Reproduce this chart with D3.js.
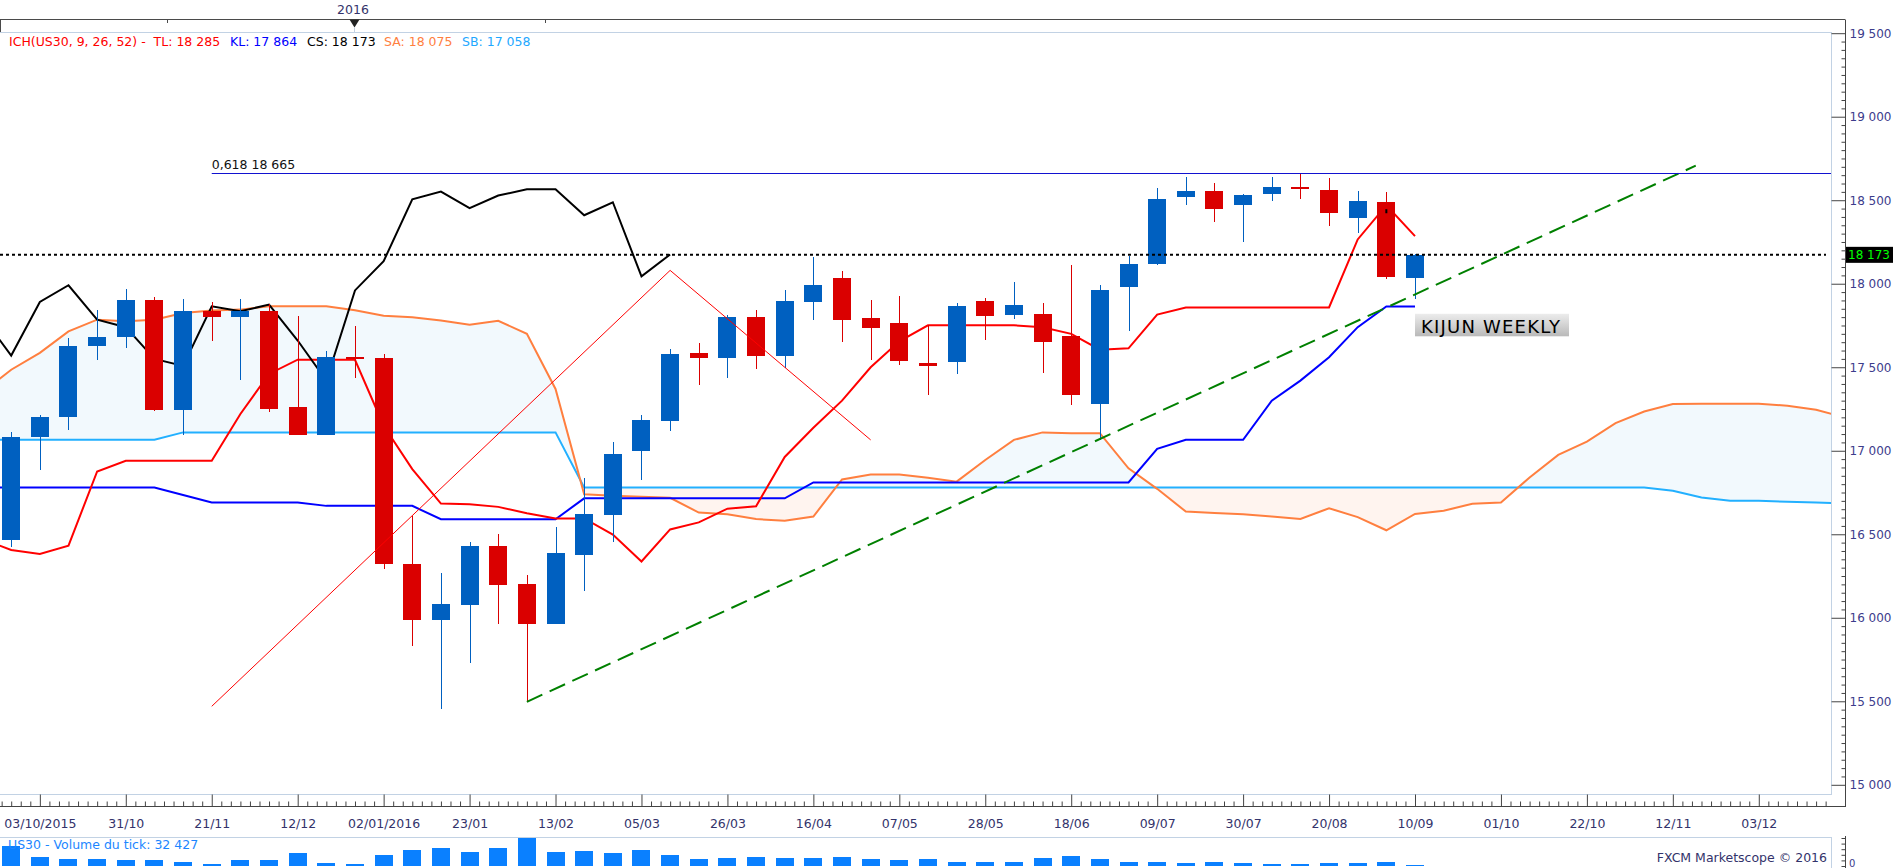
<!DOCTYPE html>
<html><head><meta charset="utf-8">
<script src="https://cdn.jsdelivr.net/npm/d3@7"></script>
<style>
body{margin:0;background:#fff;overflow:hidden}
svg{display:block}
text{font-family:"DejaVu Sans",Verdana,sans-serif}
</style>
</head><body>
<svg id="c" width="1903" height="868"></svg>
<script>
// ---------- DATA (weekly US30, candle index 0 = first visible week) ----------
const tickLabels = ["03/10/2015","31/10","21/11","12/12","02/01/2016","23/01","13/02","05/03","26/03","16/04","07/05","28/05","18/06","09/07","30/07","20/08","10/09","01/10","22/10","12/11","03/12"];
const openP  = [16466,17080,17200,17625,17679,17905,17246,17839,17799,17835,17260,17092,17560,17555,16322,15988,16079,16430,16202,15961,16378,16618,17000,17180,17586,17553,17803,17565,17890,18037,17797,17767,17528,17529,17899,17811,17821,17689,17278,17979,18117,18519,18553,18471,18540,18580,18562,18394,18491,18033];
const highP  = [17112,17212,17677,17845,17971,17919,17911,17892,17911,17880,17809,17599,17749,17580,16612,16271,16451,16504,16256,16544,16839,17051,17215,17611,17648,17810,17840,17964,18160,18079,17905,17929,17751,17885,17917,18013,17885,18115,17995,18165,18571,18637,18601,18540,18637,18664,18634,18555,18551,18180];
const lowP   = [16426,16886,17126,17541,17613,17236,17096,17655,17421,17230,17092,17092,17438,16290,15833,15451,15728,15961,15497,15961,16163,16451,16822,17116,17396,17433,17487,17495,17782,17649,17546,17511,17332,17457,17665,17791,17463,17276,17062,17715,18110,18471,18369,18249,18496,18505,18343,18301,18030,17909];
const closeP = [17084,17204,17630,17683,17905,17246,17839,17799,17835,17252,17092,17559,17552,16319,15988,16083,16430,16199,15961,16385,16622,16979,17186,17582,17555,17803,17565,17894,17993,17785,17733,17535,17505,17869,17805,17875,17649,17332,17965,18121,18505,18553,18445,18529,18577,18568,18423,18496,18039,18173];
// indicator series start one week before the first visible candle (index -1)
const indStart = -1;
const tenkan = [16470,16406,16382,16432,16876,16940,16940,16940,16940,17220,17460,17545,17545,17545,17150,16890,16684,16680,16664,16626,16595,16595,16498,16337,16529,16571,16653,16668,16963,17138,17300,17500,17655,17751,17751,17751,17751,17740,17700,17605,17613,17815,17858,17858,17858,17858,17858,17858,18265,18470,18285];
const kijun  = [16780,16780,16780,16780,16780,16780,16780,16735,16690,16690,16690,16690,16670,16670,16670,16670,16590,16590,16590,16590,16590,16715,16715,16715,16715,16715,16715,16715,16715,16810,16810,16810,16810,16810,16810,16810,16810,16810,16810,16810,16810,17012,17066,17066,17066,17300,17420,17560,17740,17864,17864];
const chikou = [17803,17570,17891,17991,17785,17740,17550,17508,17865,17835,17875,17660,17420,17960,18135,18505,18552,18453,18528,18565,18565,18410,18488,18044,18175];
const senkouA = [17350,17485,17586,17715,17785,17775,17785,17825,17840,17845,17865,17865,17865,17841,17809,17800,17780,17754,17778,17700,17370,16740,16730,16724,16718,16630,16620,16591,16581,16606,16828,16858,16858,16838,16815,16945,17065,17110,17105,17105,16895,16772,16636,16628,16620,16606,16592,16656,16603,16524,16622,16641,16682,16690,16840,16975,17055,17165,17235,17280,17282,17282,17282,17270,17245,17200];
const senkouB = [17066,17066,17066,17066,17066,17066,17066,17110,17110,17110,17110,17110,17110,17110,17110,17110,17110,17110,17110,17110,17110,16780,16780,16780,16780,16780,16780,16780,16780,16780,16780,16780,16780,16780,16780,16780,16780,16780,16780,16780,16780,16780,16780,16780,16780,16780,16780,16780,16780,16780,16780,16780,16780,16780,16780,16780,16780,16780,16780,16760,16720,16700,16700,16695,16690,16685];
const volume = [714000,315000,242000,242000,206000,206000,133000,61000,206000,206000,460000,97000,61000,387000,569000,642000,496000,642000,1005000,496000,533000,460000,569000,387000,242000,278000,315000,278000,278000,315000,242000,206000,242000,133000,133000,133000,278000,351000,242000,133000,133000,97000,133000,97000,61000,61000,97000,97000,133000,32427];
const fibLevel = 18665, fibStart = 7;
const lastClose = 18173;
const redTrend = [[7,15470],[23,18080],[30,17065]];
const greenTrend = [[18,15497],[58.8,18707]];
const kijunNote = {i:49, v:17820, text:"KIJUN WEEKLY"};
const legendParts = [
  {t:"ICH(US30, 9, 26, 52) -  TL: 18 285", c:"#ff0000", x:9},
  {t:"KL: 17 864", c:"#0000ff", x:230},
  {t:"CS: 18 173", c:"#000000", x:307},
  {t:"SA: 18 075", c:"#ff7f3f", x:384},
  {t:"SB: 17 058", c:"#1ea8ff", x:462}
];

// ---------- LAYOUT ----------
const svg = d3.select("#c");
const P = {left:0, right:1831, top:32, bottom:794};
const axisX = 1845, axisY = 806;
const x = d3.scaleLinear().domain([0,49]).range([11.2,1415]);
const y = d3.scaleLinear().domain([15000,19500]).range([784.8,33.2]);
const yv = d3.scaleLinear().domain([0,1000000]).range([866,838]);
const fmt = d => d3.format(",")(d).replace(/,/g," ");

const defs = svg.append("defs");
defs.append("clipPath").attr("id","plotClip").append("rect")
  .attr("x",P.left).attr("y",P.top).attr("width",P.right-P.left).attr("height",P.bottom-P.top);
defs.append("clipPath").attr("id","volClip").append("rect")
  .attr("x",0).attr("y",837).attr("width",P.right).attr("height",40);
const g1 = defs.append("linearGradient").attr("id","boxGrad").attr("x1",0).attr("y1",0).attr("x2",0).attr("y2",1);
g1.append("stop").attr("offset","0%").attr("stop-color","#ececec");
g1.append("stop").attr("offset","100%").attr("stop-color","#b9b9b9");

// cloud clip regions
const cloudI = d3.range(senkouA.length);
const xi = i => x(i+indStart);
const topY = P.top-10, botY = P.bottom+10;
defs.append("clipPath").attr("id","belowSA").append("path")
  .attr("d", d3.area().x(xi).y0(botY).y1(i=>y(senkouA[i]))(cloudI));
defs.append("clipPath").attr("id","belowSB").append("path")
  .attr("d", d3.area().x(xi).y0(botY).y1(i=>y(senkouB[i]))(cloudI));

// top strip
svg.append("line").attr("x1",0).attr("x2",axisX).attr("y1",19.5).attr("y2",19.5).attr("stroke","#4a4a4a");
svg.append("line").attr("x1",0.5).attr("x2",0.5).attr("y1",19.5).attr("y2",32).attr("stroke","#4a4a4a");
[167,545].forEach(t=>svg.append("line").attr("x1",t+0.5).attr("x2",t+0.5).attr("y1",19.5).attr("y2",23).attr("stroke","#4a4a4a"));
svg.append("path").attr("d","M349.5,19.5 L359.5,19.5 L354.5,27.5 Z").attr("fill","#222");
svg.append("line").attr("x1",354.5).attr("x2",354.5).attr("y1",27.5).attr("y2",32).attr("stroke","#c4d2e2");
svg.append("text").attr("x",353).attr("y",13.5).attr("text-anchor","middle").attr("font-size",12.5).attr("fill","#33336b").text("2016");

// plot frame
svg.append("rect").attr("x",-1).attr("y",P.top+0.5).attr("width",P.right+1.5).attr("height",P.bottom-P.top)
  .attr("fill","none").attr("stroke","#c2d2e4");

// legend
legendParts.forEach(p=>svg.append("text").attr("x",p.x).attr("y",45.5).attr("font-size",12.5)
  .attr("fill",p.c).style("white-space","pre").text(p.t));

const plot = svg.append("g").attr("clip-path","url(#plotClip)");

// cloud fills
plot.append("path").attr("clip-path","url(#belowSA)")
  .attr("d", d3.area().x(xi).y0(topY).y1(i=>y(senkouB[i]))(cloudI))
  .attr("fill","#f2f9fd");
plot.append("path").attr("clip-path","url(#belowSB)")
  .attr("d", d3.area().x(xi).y0(topY).y1(i=>y(senkouA[i]))(cloudI))
  .attr("fill","#fff4ef");

const line = arr => d3.line().x((d,i)=>xi(i)).y(d=>y(d))(arr);
plot.append("path").attr("d",line(senkouB)).attr("fill","none").attr("stroke","#22b0ff").attr("stroke-width",2);
plot.append("path").attr("d",line(senkouA)).attr("fill","none").attr("stroke","#ff7f3f").attr("stroke-width",2);
plot.append("path").attr("d",line(kijun)).attr("fill","none").attr("stroke","#0000ff").attr("stroke-width",2);
plot.append("path").attr("d",line(tenkan)).attr("fill","none").attr("stroke","#ff0000").attr("stroke-width",2);
plot.append("path").attr("d",line(chikou)).attr("fill","none").attr("stroke","#000000").attr("stroke-width",2);

// candles
const candles = plot.append("g").attr("shape-rendering","crispEdges");
openP.forEach((o,i)=>{
  const c = closeP[i], col = c>=o ? "#0060c0" : "#da0000";
  const cx = Math.round(x(i))+0.5;
  candles.append("line").attr("x1",cx).attr("x2",cx).attr("y1",y(highP[i])).attr("y2",y(lowP[i])).attr("stroke",col);
  const yt = y(Math.max(o,c)), yb = y(Math.min(o,c));
  candles.append("rect").attr("x",Math.round(x(i))-9).attr("width",18)
    .attr("y",yt).attr("height",Math.max(1.5,yb-yt)).attr("fill",col);
});
// small marker inside candle 48
plot.append("line").attr("x1",x(48)).attr("x2",x(48)).attr("y1",y(18446)).attr("y2",y(18422)).attr("stroke","#000").attr("stroke-width",2);

// trend lines
const tl = d3.line().x(d=>x(d[0])).y(d=>y(d[1]));
plot.append("path").attr("d",tl(redTrend)).attr("fill","none").attr("stroke","#ff0000").attr("stroke-width",1);
plot.append("path").attr("d",tl(greenTrend)).attr("fill","none").attr("stroke","#008000").attr("stroke-width",2).attr("stroke-dasharray","17,8");
plot.append("line").attr("x1",x(fibStart)).attr("x2",P.right).attr("y1",Math.round(y(fibLevel))+0.5).attr("y2",Math.round(y(fibLevel))+0.5)
  .attr("stroke","#1212d0").attr("stroke-width",1);
svg.append("text").attr("x",x(fibStart)).attr("y",y(fibLevel)-4).attr("font-size",12.5).attr("fill","#111").style("white-space","pre").text("0,618 18 665");
plot.append("line").attr("x1",0).attr("x2",1826).attr("y1",y(lastClose)).attr("y2",y(lastClose))
  .attr("stroke","#000").attr("stroke-width",2).attr("stroke-dasharray","3,3");

// KIJUN WEEKLY note
const ky = y(kijunNote.v);
svg.append("rect").attr("x",x(kijunNote.i)).attr("y",ky).attr("width",154).attr("height",22.5).attr("fill","url(#boxGrad)");
svg.append("text").attr("x",x(kijunNote.i)+6).attr("y",ky+18.8).attr("font-size",18).attr("letter-spacing",1.2)
  .attr("fill","#000").text(kijunNote.text);

// right price axis
svg.append("line").attr("x1",axisX+0.5).attr("x2",axisX+0.5).attr("y1",19.5).attr("y2",axisY).attr("stroke","#444");
const yAxis = d3.axisRight(y).tickValues(d3.range(15000,19501,500)).tickSize(-14).tickPadding(4).tickFormat(fmt);
const ya = svg.append("g").attr("transform",`translate(${axisX+0.5},0)`).call(yAxis);
ya.select(".domain").remove();
ya.selectAll("line").attr("stroke","#444");
ya.selectAll("text").attr("font-family","DejaVu Sans").attr("font-size",12).attr("fill","#3c3c8c");
const yMinor = d3.axisRight(y).tickValues(d3.range(15050,19500,50).filter(v=>v%500!==0)).tickSize(-4).tickFormat("");
const ym = svg.append("g").attr("transform",`translate(${axisX+0.5},0)`).call(yMinor);
ym.select(".domain").remove(); ym.selectAll("line").attr("stroke","#444");

// price tag
const py = y(lastClose);
svg.append("rect").attr("x",axisX+1).attr("y",py-8).attr("width",47).attr("height",16).attr("fill","#000");
svg.append("text").attr("x",axisX+3).attr("y",py+4.5).attr("font-family","DejaVu Sans Mono").attr("font-size",12)
  .attr("fill","#00ff00").style("white-space","pre").text(fmt(lastClose));

// bottom time axis
svg.append("line").attr("x1",0).attr("x2",axisX+1).attr("y1",axisY+0.5).attr("y2",axisY+0.5).attr("stroke","#444");
const majorIdx = tickLabels.map((d,k)=>1+3*k);
const xAxis = d3.axisBottom(x).tickValues(majorIdx).tickSize(-12).tickPadding(13).tickFormat((d,k)=>tickLabels[k]);
const xa = svg.append("g").attr("transform",`translate(0,${axisY+0.5})`).call(xAxis);
xa.select(".domain").remove();
xa.selectAll("line").attr("stroke","#444");
xa.selectAll("text").attr("font-family","DejaVu Sans").attr("font-size",12.5).attr("fill","#33336b");
const minorIdx = d3.range(-1,192).filter(m=>((m-3)%9+9)%9!==0).map(m=>m/3).filter(v=>x(v)>=0 && x(v)<=P.right);
const xMinor = d3.axisBottom(x).tickValues(minorIdx).tickSize(-5).tickFormat("");
const xm = svg.append("g").attr("transform",`translate(0,${axisY+0.5})`).call(xMinor);
xm.select(".domain").remove(); xm.selectAll("line").attr("stroke","#444");

// volume panel
svg.append("rect").attr("x",-1).attr("y",837.5).attr("width",P.right+1.5).attr("height",40).attr("fill","none").attr("stroke","#c2d2e4");
svg.append("g").attr("clip-path","url(#volClip)").attr("shape-rendering","crispEdges")
  .selectAll("rect").data(volume).join("rect")
  .attr("x",(d,i)=>Math.round(x(i))-9).attr("width",18)
  .attr("y",d=>yv(d)).attr("height",d=>Math.max(1,yv(0)-yv(d))).attr("fill","#0a80ff");
svg.append("text").attr("x",8).attr("y",848.5).attr("font-size",12.5).attr("fill","#1c86ff").text("US30 - Volume du tick: 32 427");
svg.append("text").attr("x",1827).attr("y",862).attr("text-anchor","end").attr("font-size",12.5).attr("fill","#33336b").text("FXCM Marketscope © 2016");
svg.append("line").attr("x1",axisX+0.5).attr("x2",axisX+0.5).attr("y1",836).attr("y2",868).attr("stroke","#444");
const vAxis = d3.axisRight(yv).tickValues([0,200000,400000,600000,800000,1000000]).tickSize(-4).tickPadding(4).tickFormat("");
const va = svg.append("g").attr("transform",`translate(${axisX+0.5},0)`).call(vAxis);
va.select(".domain").remove(); va.selectAll("line").attr("stroke","#444");
svg.append("text").attr("x",axisX+4).attr("y",867).attr("font-size",10).attr("fill","#3c3c8c").text("0");
</script>
</body></html>
